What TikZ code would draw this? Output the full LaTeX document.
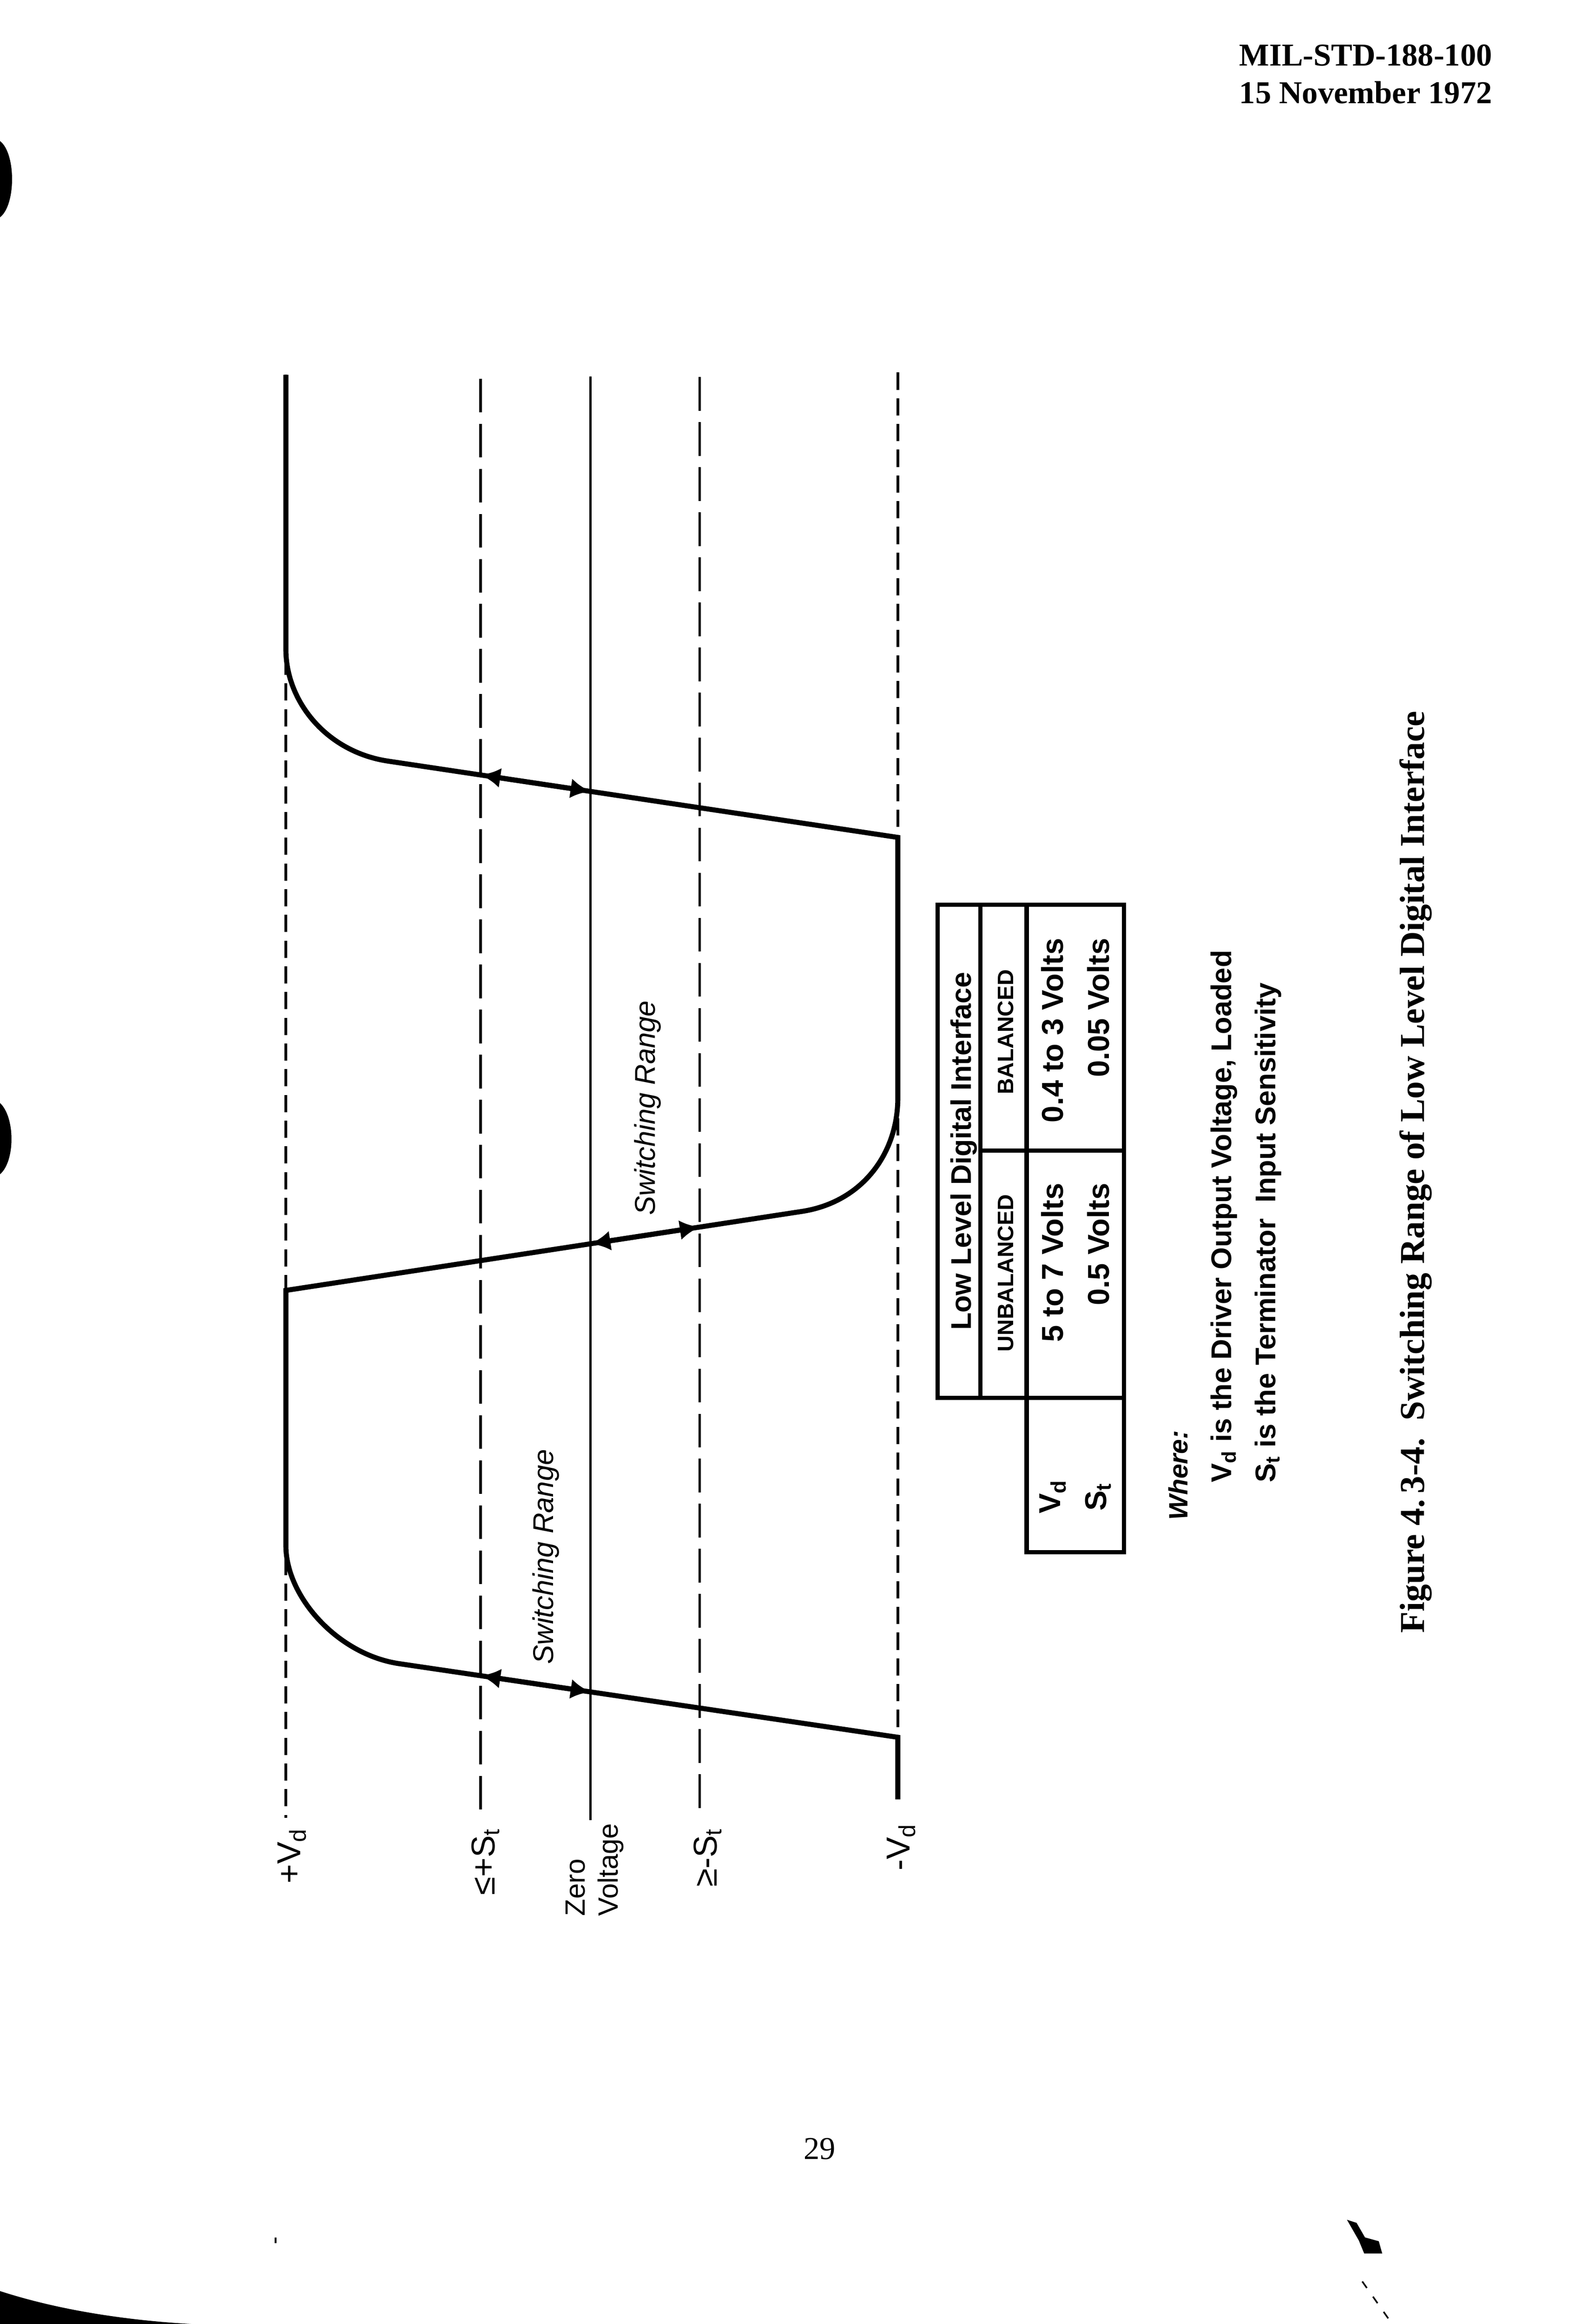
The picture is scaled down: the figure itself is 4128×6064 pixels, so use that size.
\documentclass[tikz,border=0pt]{standalone}
\usepackage{fontspec}
\setmainfont{Liberation Serif}
\setsansfont{Liberation Sans}
\usetikzlibrary{arrows.meta}
\tikzstyle{every node}+=[inner sep=0pt]
\tikzstyle{vdline} = [draw, line width=1pt, dash pattern=on 6.5pt off 3.2pt]
\tikzstyle{stline} = [draw, line width=1pt, dash pattern=on 12.7pt off 4.3pt]
\tikzstyle{zeroline} = [draw, line width=1pt]
\tikzstyle{wave} = [draw, line width=1.9pt]
\tikzstyle{swarrow} = [draw, line width=1.9pt, {Latex[length=7.5pt,width=7.5pt]}-{Latex[length=7.5pt,width=7.5pt]}]
\tikzstyle{lvl} = [rotate=90, anchor=east, font=\fontsize{12.5}{15}\selectfont\sffamily]
\tikzstyle{rangelbl} = [rotate=90, font=\fontsize{10.8}{13}\selectfont\sffamily\itshape]
\tikzstyle{tblcell} = [draw, line width=1.6pt]
\tikzstyle{colhead} = [rotate=90, font=\fontsize{8.4}{10}\selectfont\sffamily\bfseries]
\tikzstyle{tblentry} = [rotate=90, font=\fontsize{11.4}{17.4}\selectfont\sffamily\bfseries]
\tikzstyle{note} = [rotate=90, anchor=west, align=left, font=\fontsize{10.75}{16.6}\selectfont\sffamily\bfseries]

\begin{document}
\begin{tikzpicture}[x=0.0050872cm, y=-0.0050872cm]
            \path [fill=white, use as bounding box] (0,0) rectangle (4128,6064);
            % Page furniture
            \node [anchor=base west, font=\fontsize{12}{14}\selectfont\bfseries] (std) at (3233,172) {MIL-STD-188-100};
            \node [anchor=base west, font=\fontsize{12}{14}\selectfont\bfseries] (date) at (3233,270) {15 November 1972};
            \node [font=\fontsize{12}{14}\selectfont] (page) at (2139,5607) {29};
            % Scan marks
            \fill (0,368) .. controls (42,400) and (42,535) .. (0,567) -- cycle;
            \fill (0,2878) .. controls (40,2915) and (40,3030) .. (0,3064) -- cycle;
            \fill (0,5978) .. controls (160,6030) and (340,6055) .. (500,6064) -- (0,6064) -- cycle;
            \fill (3515,5792) -- (3540,5800) -- (3562,5838) -- (3598,5848) -- (3607,5880) -- (3560,5880) -- (3546,5846) -- cycle;
            \draw [line width=0.6pt, dash pattern=on 3pt off 4pt] (3555,5953) -- (3633,6064);
            \draw [line width=0.6pt] (719,5838) -- (719,5853);
            % Level lines
            \coordinate (vpt) at (746,978);   \coordinate (vpb) at (746,4743);
            \coordinate (spt) at (1254,988);  \coordinate (spb) at (1254,4751);
            \coordinate (zt)  at (1541,982);  \coordinate (zb)  at (1541,4749);
            \coordinate (smt) at (1826,984);  \coordinate (smb) at (1826,4741);
            \coordinate (vmt) at (2343,972);  \coordinate (vmb) at (2343,4695);
            \path [vdline] (vpt) -- (vpb);
            \path [stline] (spt) -- (spb);
            \path [zeroline] (zt) -- (zb);
            \path [stline] (smt) -- (smb);
            \path [vdline] (vmt) -- (vmb);
            % Waveform
            \coordinate (w0) at (2343,4695);
            \coordinate (w1) at (2343,4533);
            \coordinate (w2) at (1042,4341);
            \coordinate (w3) at (746,4033);
            \coordinate (w4) at (746,3367);
            \coordinate (w5) at (2092,3161);
            \coordinate (w6) at (2343,2864);
            \coordinate (w7) at (2343,2185);
            \coordinate (w8) at (1013,1986);
            \coordinate (w9) at (746,1694);
            \coordinate (w10) at (746,978);
            \path [wave] (w0) -- (w1) -- (w2) .. controls (880,4317) and (746,4165) .. (w3) -- (w4)
              -- (w5) .. controls (2250,3137) and (2343,3010) .. (w6) -- (w7)
              -- (w8) .. controls (852,1962) and (746,1830) .. (w9) -- (w10);
            % Switching ranges
            \coordinate (a1) at (intersection of w1--w2 and spt--spb);
            \coordinate (a2) at (intersection of w1--w2 and zt--zb);
            \coordinate (b1) at (intersection of w4--w5 and zt--zb);
            \coordinate (b2) at (intersection of w4--w5 and smt--smb);
            \coordinate (c1) at (intersection of w7--w8 and spt--spb);
            \coordinate (c2) at (intersection of w7--w8 and zt--zb);
            \path [swarrow] (a1) -- (a2);
            \path [swarrow] (b1) -- (b2);
            \path [swarrow] (c1) -- (c2);
            \node [rangelbl] (r1) at (1425,4062) {Switching Range};
            \node [rangelbl] (r2) at (1690,2891) {Switching Range};
            % Level labels
            \node [lvl] (lvp) at (762,4768) {+V\textsubscript{d}};
            \node [lvl] (lsp) at (1267,4768) {≤+S\textsubscript{t}};
            \node [lvl, align=left, font=\fontsize{10.5}{12.4}\selectfont\sffamily] (lz) at (1552,4756) {Zero\\Voltage};
            \node [lvl] (lsm) at (1847,4768) {≥-S\textsubscript{t}};
            \node [lvl] (lvm) at (2352,4756) {-V\textsubscript{d}};
            % Table
            \path [tblcell] (2447,2361) rectangle (2558,3647);
            \path [tblcell] (2558,2361) rectangle (2679,3002);
            \path [tblcell] (2558,3002) rectangle (2679,3647);
            \path [tblcell] (2679,2361) rectangle (2933,3002);
            \path [tblcell] (2679,3002) rectangle (2933,3647);
            \path [tblcell] (2679,3647) rectangle (2933,4050);
            \node [rotate=90, font=\fontsize{10.7}{13}\selectfont\sffamily\bfseries] (title) at (2515,3004) {Low Level Digital Interface};
            \node [colhead] (hbal) at (2624,2693) {BALANCED};
            \node [colhead] (hunb) at (2624,3322) {UNBALANCED};
            \node [tblentry, anchor=east, align=right] (vbal) at (2806,2447) {0.4 to 3 Volts\\0.05 Volts};
            \node [tblentry, anchor=east, align=right] (vunb) at (2806,3086) {5 to 7 Volts\\0.5 Volts};
            \node [tblentry, align=center] (vsym) at (2806,3905) {V\textsubscript{d}\\S\textsubscript{t}};
            % Notes
            \node [rotate=90, anchor=west, font=\fontsize{10}{12}\selectfont\sffamily\bfseries\itshape] (where) at (3074,3968) {Where:};
            \node [note] (defs) at (3252,3870) {V\textsubscript{d} is the Driver Output Voltage, Loaded\\S\textsubscript{t} is the Terminator\ \ Input Sensitivity};
            \node [rotate=90, font=\fontsize{13.2}{16}\selectfont\bfseries] (cap) at (3694,3058) {Figure 4.\,3-4.\ \ Switching Range of Low Level Digital Interface};
          \end{tikzpicture}
\end{document}
